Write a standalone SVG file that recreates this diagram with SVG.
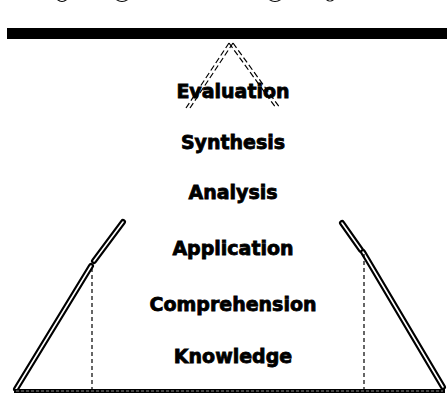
<svg xmlns="http://www.w3.org/2000/svg" width="447" height="396" viewBox="0 0 447 396">
<style>
.lbl{font-family:"DejaVu Sans","Verdana",sans-serif;font-weight:bold;font-size:19px;fill:#000;stroke:#000;stroke-width:0.8;text-anchor:middle}
.outer{fill:none;stroke:#000;stroke-width:6;stroke-linecap:round}
.inner{fill:none;stroke:#fff;stroke-width:1.6;stroke-linecap:round}
.dash{fill:none;stroke:#000;stroke-width:1.2;stroke-dasharray:4 3}
.leg{fill:none;stroke:#000;stroke-width:1.2;stroke-dasharray:6 3}
</style>
<rect width="447" height="396" fill="#fff"/>
<g id="title-fragments" fill="#000">
<path d="M57 0 Q62 4 67 0 L65 0 Q62 2 59 0 Z"/>
<path d="M116 0 Q122 4 128 0 L126 0 Q122 2 118 0 Z"/>
<path d="M269 0 Q275 4 281 0 L279 0 Q275 2 271 0 Z"/>
<path d="M326 0 Q330 3 334 0 L332 0 Q330 1.5 328 0 Z"/>
</g>
<g id="header-bar">
<rect x="7" y="28" width="440" height="11" fill="#000"/>
</g>
<g id="connectors">
<path class="leg" d="M229 43 L186 108"/>
<path class="leg" d="M233 43 L190 108"/>
<path class="leg" d="M229 43 L276 108"/>
<path class="leg" d="M233 43 L280 108"/>
<path class="outer" d="M123 222 L94 261"/>
<path class="inner" d="M123 222 L94 261"/>
<path class="outer" d="M91 266 L16 389"/>
<path class="inner" d="M91 266 L16 389"/>
<path class="outer" d="M342 223 L361 250"/>
<path class="inner" d="M342 223 L361 250"/>
<path class="outer" d="M363 252 L443 387"/>
<path class="inner" d="M363 252 L443 387"/>
<path d="M14 391 L445 391" stroke="#000" stroke-width="4"/>
<path d="M16 391 L443 391" stroke="#888" stroke-width="1" stroke-dasharray="3 2"/>
<path class="dash" d="M92 268 L92 390"/>
<path class="dash" d="M364 254 L364 390"/>
</g>
<g id="evaluation"><text class="lbl" x="233" y="98">Evaluation</text></g>
<g id="synthesis"><text class="lbl" x="233" y="149">Synthesis</text></g>
<g id="analysis"><text class="lbl" x="233" y="199">Analysis</text></g>
<g id="application"><text class="lbl" x="233" y="255">Application</text></g>
<g id="comprehension"><text class="lbl" x="233" y="311">Comprehension</text></g>
<g id="knowledge"><text class="lbl" x="233" y="363">Knowledge</text></g>
</svg>
